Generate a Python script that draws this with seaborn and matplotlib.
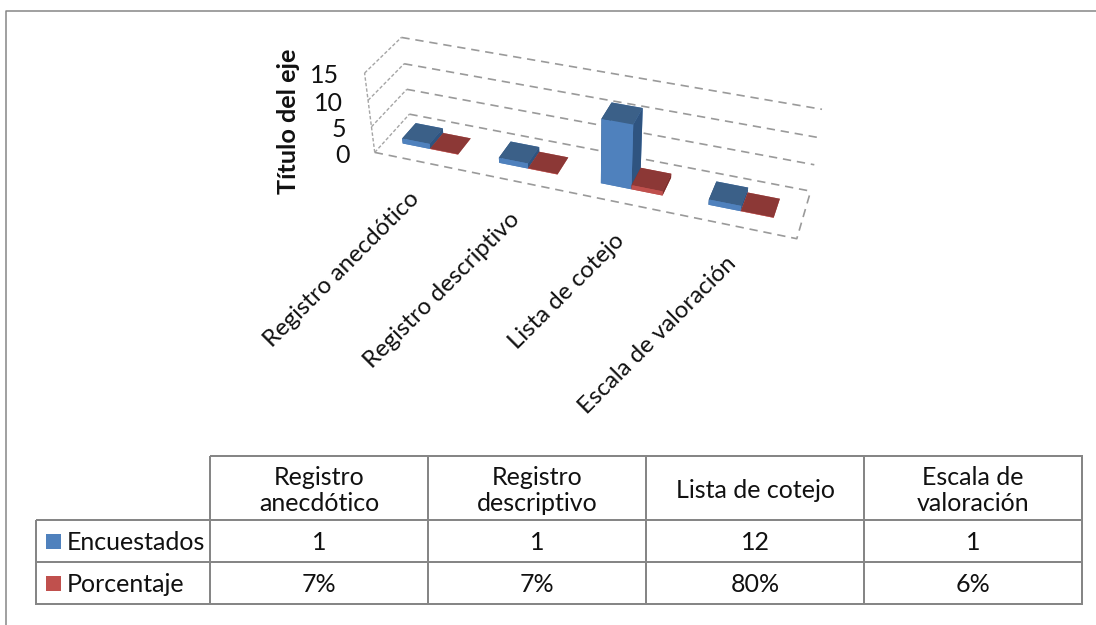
import numpy as np
import seaborn as sns
import matplotlib.pyplot as plt
from matplotlib.lines import Line2D
from matplotlib.patches import Rectangle
from mpl_toolkits.mplot3d import proj3d

categories = ['Registro anecdótico', 'Registro descriptivo', 'Lista de cotejo', 'Escala de valoración']
header_labels = ['Registro\nanecdótico', 'Registro\ndescriptivo', 'Lista de cotejo', 'Escala de\nvaloración']
encuestados = [1, 1, 12, 1]
porcentaje = [0.07, 0.07, 0.80, 0.06]
porcentaje_labels = ['7%', '7%', '80%', '6%']
series_names = ['Encuestados', 'Porcentaje']
z_ticks = [0, 5, 10, 15]

GRAY = '#868686'
BLUE = {'front': '#4f81bd', 'top': '#3b6088', 'side': '#2f5480'}
RED = {'front': '#c0504d', 'top': '#8c3836', 'side': '#7a2f2d'}

sns.set_theme(style='white')
plt.rcParams['font.family'] = ['Lato', 'DejaVu Sans']
TXT = '#111111'
FS = 18
W, H = 1096, 625
fig = plt.figure(figsize=(W / 100, H / 100), dpi=100, facecolor='white')


def px_axes(x0, y0, x1, y1, **kw):
    # rectangle in pixels from the top left corner
    return fig.add_axes([x0 / W, 1 - y1 / H, (x1 - x0) / W, (y1 - y0) / H], **kw)


# outer frame of the chart area
fig.add_artist(Line2D([6 / W, 6 / W, 1], [0, 1 - 11 / H, 1 - 11 / H], color=GRAY, lw=1.1))

# 3D column chart
ax = px_axes(357, -86, 805, 362, projection='3d', computed_zorder=False)
ax.patch.set_alpha(0)
ax.set_proj_type('persp', focal_length=0.45)
ax.view_init(elev=33, azim=-71)
ax.set_box_aspect((444, 80, 96), zoom=1.0)
ax.set_xlim(0, 4)
ax.set_ylim(0, 1)
ax.set_zlim(0, 15)
ax.set_axis_off()
M = ax.get_proj()


def label3d(x, y, z, text, dx, dy, size=FS, **kw):
    # 3D texts ignore rotation, so place them in the projected plane
    px, py, _ = proj3d.proj_transform(x, y, z, M)
    ax.annotate(text, xy=(px, py), xytext=(dx, dy), textcoords='offset points',
                fontsize=size, color=TXT, annotation_clip=False, **kw)


grid_kw = dict(color='#9a9a9a', lw=1.2, ls=(0, (5, 3.5)), zorder=1, clip_on=False)
wall_kw = dict(color='#a5a5a5', lw=1.0, ls=(0, (2.5, 1.5)), zorder=1, clip_on=False)
for z in z_ticks:
    ax.plot([0, 0], [0, 1], [z, z], **wall_kw)
    ax.plot([0, 4], [1, 1], [z, z], **grid_kw)
    label3d(0, 0, z, str(z), -18, -2, ha='right', va='center')
ax.plot([0, 4, 4], [0, 0, 1], [0, 0, 0], **grid_kw)
ax.plot([0, 0], [0, 0], [0, 15], **wall_kw)

bar_w = 0.29
for i in range(len(categories)):
    for j, (vals, col) in enumerate([(encuestados, BLUE), (porcentaje, RED)]):
        x = i + 0.47 - bar_w + j * bar_w
        faces = [col['front'], col['top'], col['front'], col['front'], col['side'], col['side']]
        ax.bar3d(x, 0.31, 0, bar_w, 0.40, vals[i], color=faces, shade=False,
                 edgecolor='none', zorder=2 + i * 2 + j)
    label3d(i + 0.5, 0, 0, categories[i], -4.5, -24, size=17.3, rotation=45,
            rotation_mode='anchor', ha='right', va='center')

fig.text(288 / W, 1 - 121 / H, 'Título del eje', rotation=90, ha='center', va='center',
         fontsize=18.2, fontweight='bold', color=TXT)

# data table under the chart, drawn as heatmaps with no colour
blank = dict(cmap=['white'], cbar=False, linewidths=1.1, linecolor=GRAY, vmin=0, vmax=1,
             xticklabels=False, yticklabels=False, fmt='', annot_kws=dict(fontsize=FS, color=TXT))

ax_head = px_axes(210, 456, 1082, 520)
sns.heatmap(np.zeros((1, 4)), annot=np.array([header_labels]), ax=ax_head, **blank)

ax_body = px_axes(210, 520, 1082, 604)
body_text = np.array([[str(v) for v in encuestados], porcentaje_labels])
sns.heatmap(np.zeros((2, 4)), annot=body_text, ax=ax_body, **blank)

ax_names = px_axes(36, 520, 210, 604)
sns.heatmap(np.zeros((2, 1)), ax=ax_names, **blank)
for r, (name, col) in enumerate(zip(series_names, [BLUE, RED])):
    ax_names.add_patch(Rectangle((0.057, r + 0.33), 0.086, 0.36, color=col['front'], lw=0))
    ax_names.text(0.178, r + 0.5, name, va='center', ha='left', fontsize=FS, color=TXT)

for a in [ax_head, ax_body, ax_names]:
    a.collections[0].set_clip_on(False)
    # text sits a little lower in the reference cells
    for t in a.texts:
        x, y = t.get_position()
        t.set_position((x, y + 0.04))

fig.savefig('out.png', dpi=100)
